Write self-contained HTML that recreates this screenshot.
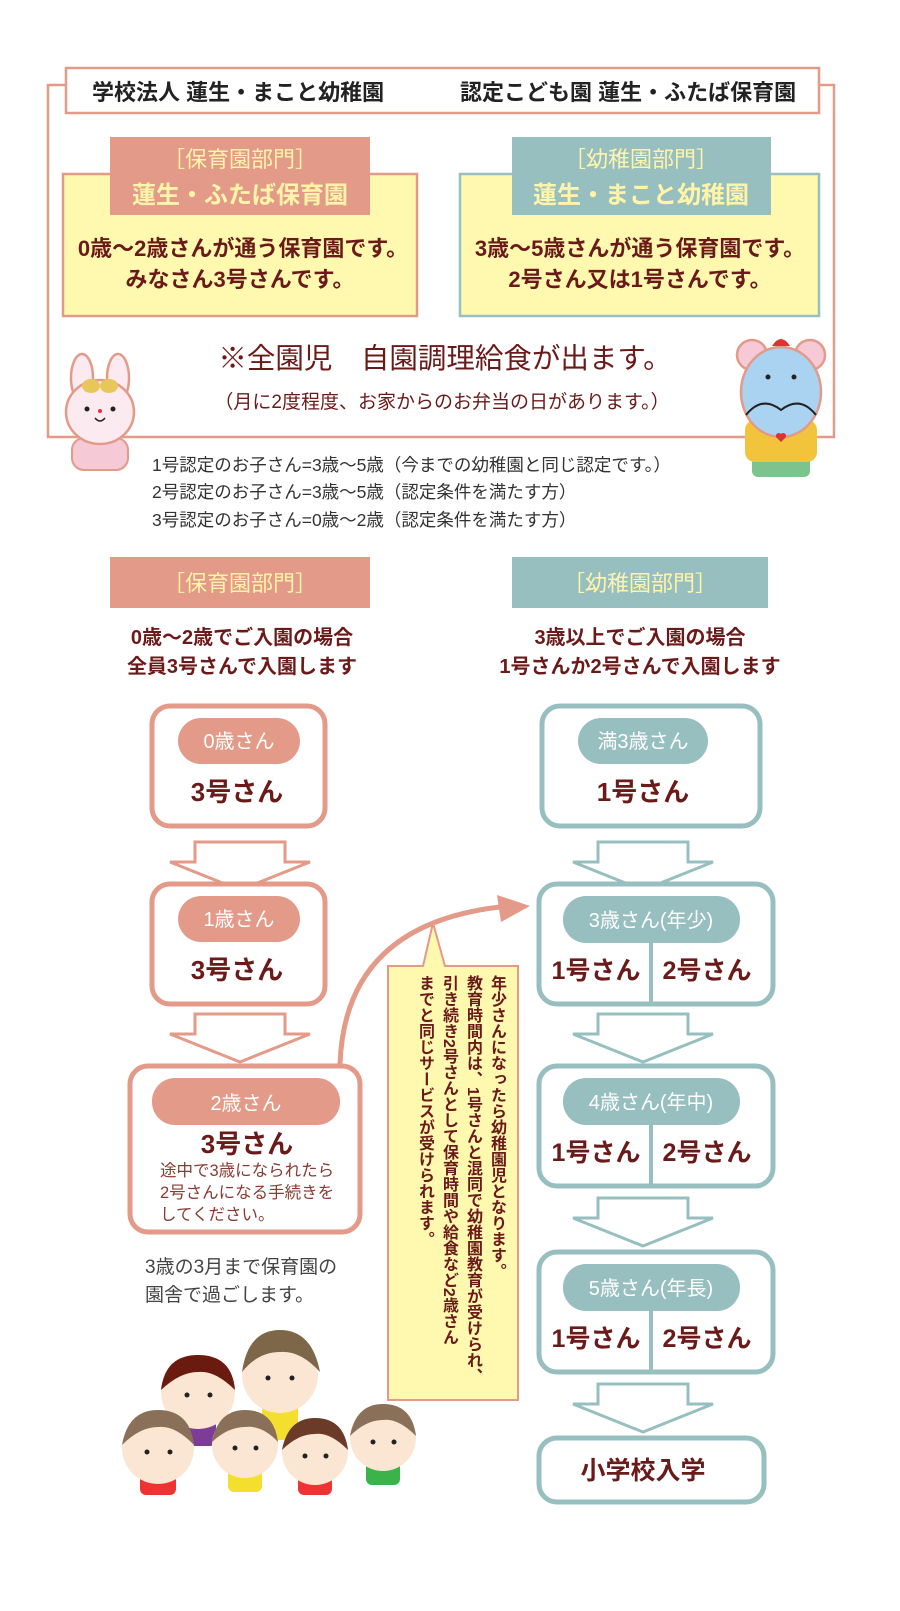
<!DOCTYPE html>
<html><head><meta charset="utf-8"><style>
body{margin:0;background:#fff}
svg{display:block}
text{font-family:"Liberation Sans","Noto Sans CJK JP",sans-serif}
.b{font-weight:bold}
.dr{fill:#6b1a1a}
.yl{fill:#fff4a8}
.wt{fill:#fff}
.vt{position:absolute;writing-mode:vertical-rl;font-family:"Liberation Sans","Noto Sans CJK JP",sans-serif;font-size:16px;line-height:24px;color:#6b1a1a;font-weight:bold}
</style></head><body>
<div style="position:relative;width:900px;height:1611px;overflow:hidden">
<svg width="900" height="1611" viewBox="0 0 900 1611">
<defs>
<g id="arrS"><path d="M25 2 H115 V22 H140 L70 50 L0 22 H25 Z" fill="#fff" stroke="#e39a88" stroke-width="3"/></g>
<g id="arrT"><path d="M25 2 H115 V22 H140 L70 50 L0 22 H25 Z" fill="#fff" stroke="#97bfc0" stroke-width="3"/></g>
</defs>
<path d="M65 85 H48 V437 H834 V85 H820" fill="none" stroke="#e39a88" stroke-width="2.5"/>
<rect x="66" y="68" width="753" height="45" fill="#fff" stroke="#e39a88" stroke-width="2.5"/>
<text x="92" y="100" font-size="22" fill="#222" class="b">学校法人 蓮生・まこと幼稚園</text>
<text x="460" y="100" font-size="22" fill="#222" class="b">認定こども園 蓮生・ふたば保育園</text>
<rect x="63" y="174" width="354" height="142" fill="#fff9b0" stroke="#e39a88" stroke-width="2.5"/>
<rect x="110" y="137" width="260" height="78" fill="#e39a88"/>
<text x="240" y="167" font-size="22" class="yl" text-anchor="middle">［保育園部門］</text>
<text x="240" y="203" font-size="24" class="yl b" text-anchor="middle">蓮生・ふたば保育園</text>
<text x="243" y="256" font-size="22" class="dr b" text-anchor="middle">0歳～2歳さんが通う保育園です。</text>
<text x="240" y="287" font-size="22" class="dr b" text-anchor="middle">みなさん3号さんです。</text>
<rect x="460" y="174" width="359" height="142" fill="#fff9b0" stroke="#97bfc0" stroke-width="2.5"/>
<rect x="512" y="137" width="259" height="78" fill="#97bfc0"/>
<text x="641" y="167" font-size="22" class="yl" text-anchor="middle">［幼稚園部門］</text>
<text x="641" y="203" font-size="24" class="yl b" text-anchor="middle">蓮生・まこと幼稚園</text>
<text x="640" y="256" font-size="22" class="dr b" text-anchor="middle">3歳～5歳さんが通う保育園です。</text>
<text x="640" y="287" font-size="22" class="dr b" text-anchor="middle">2号さん又は1号さんです。</text>
<text x="445" y="368" font-size="28.5" class="dr" text-anchor="middle">※全園児　自園調理給食が出ます。</text>
<text x="442" y="408" font-size="19" class="dr" text-anchor="middle">（月に2度程度、お家からのお弁当の日があります。）</text>
<g>
<ellipse cx="82" cy="378" rx="11" ry="24" fill="#fbeaf0" stroke="#e39a88" stroke-width="2.5"/>
<ellipse cx="118" cy="378" rx="11" ry="24" fill="#fbeaf0" stroke="#e39a88" stroke-width="2.5"/>
<rect x="72" y="438" width="56" height="32" rx="12" fill="#f6c9d7" stroke="#e39a88" stroke-width="2"/>
<ellipse cx="100" cy="412" rx="34" ry="32" fill="#fbeaf0" stroke="#e39a88" stroke-width="2.5"/>
<ellipse cx="91" cy="386" rx="9" ry="7" fill="#e8c75a"/><ellipse cx="109" cy="386" rx="9" ry="7" fill="#e8c75a"/>
<circle cx="87" cy="409" r="2.5" fill="#222"/><circle cx="113" cy="409" r="2.5" fill="#222"/>
<circle cx="100" cy="411" r="2" fill="#d33"/>
<path d="M95 418 Q100 424 105 418" fill="none" stroke="#222" stroke-width="1.5"/>
</g>
<g>
<rect x="752" y="455" width="58" height="22" rx="6" fill="#7cc38c"/>
<rect x="745" y="420" width="72" height="42" rx="10" fill="#f1c43b"/>
<circle cx="752" cy="355" r="15" fill="#f6c9d7" stroke="#e39a88" stroke-width="2.5"/>
<circle cx="810" cy="355" r="15" fill="#f6c9d7" stroke="#e39a88" stroke-width="2.5"/>
<ellipse cx="781" cy="392" rx="40" ry="45" fill="#a9d3f0" stroke="#e39a88" stroke-width="2.5"/>
<path d="M772 346 Q781 332 790 346 Z" fill="#d33"/>
<circle cx="768" cy="377" r="2.5" fill="#222"/><circle cx="794" cy="377" r="2.5" fill="#222"/>
<path d="M746 415 Q762 395 781 410 Q800 395 816 415" fill="none" stroke="#222" stroke-width="2"/>
<path d="M776 437 l5 5 5-5 a3 3 0 0 0-5-3 a3 3 0 0 0-5 3z" fill="#d33"/>
</g>
<text x="152" y="471" font-size="17.5" fill="#333">1号認定のお子さん=3歳～5歳（今までの幼稚園と同じ認定です。）</text>
<text x="152" y="498" font-size="17.5" fill="#333">2号認定のお子さん=3歳～5歳（認定条件を満たす方）</text>
<text x="152" y="526" font-size="17.5" fill="#333">3号認定のお子さん=0歳～2歳（認定条件を満たす方）</text>
<rect x="110" y="557" width="260" height="51" fill="#e39a88"/>
<text x="240" y="591" font-size="22" class="yl" text-anchor="middle">［保育園部門］</text>
<rect x="512" y="557" width="256" height="51" fill="#97bfc0"/>
<text x="640" y="591" font-size="22" class="yl" text-anchor="middle">［幼稚園部門］</text>
<text x="242" y="644" font-size="20" class="dr b" text-anchor="middle">0歳～2歳でご入園の場合</text>
<text x="242" y="673" font-size="20" class="dr b" text-anchor="middle">全員3号さんで入園します</text>
<text x="640" y="644" font-size="20" class="dr b" text-anchor="middle">3歳以上でご入園の場合</text>
<text x="640" y="673" font-size="20" class="dr b" text-anchor="middle">1号さんか2号さんで入園します</text>
<rect x="152" y="706" width="173" height="120" rx="18" fill="#fff" stroke="#e39a88" stroke-width="5"/>
<rect x="178" y="718" width="122" height="46" rx="23" fill="#e39a88"/>
<text x="239" y="748" font-size="20" class="wt" text-anchor="middle">0歳さん</text>
<text x="237" y="801" font-size="26" class="dr b" text-anchor="middle">3号さん</text>
<use href="#arrS" x="170" y="840"/>
<rect x="152" y="884" width="173" height="120" rx="18" fill="#fff" stroke="#e39a88" stroke-width="5"/>
<rect x="178" y="896" width="122" height="46" rx="23" fill="#e39a88"/>
<text x="239" y="926" font-size="20" class="wt" text-anchor="middle">1歳さん</text>
<text x="237" y="979" font-size="26" class="dr b" text-anchor="middle">3号さん</text>
<use href="#arrS" x="170" y="1012"/>
<rect x="130" y="1066" width="230" height="166" rx="18" fill="#fff" stroke="#e39a88" stroke-width="5"/>
<rect x="152" y="1078" width="188" height="47" rx="23" fill="#e39a88"/>
<text x="246" y="1110" font-size="20" class="wt" text-anchor="middle">2歳さん</text>
<text x="247" y="1153" font-size="26" class="dr b" text-anchor="middle">3号さん</text>
<text x="160" y="1176" font-size="16.5" fill="#8a3a30">途中で3歳になられたら</text>
<text x="160" y="1198" font-size="16.5" fill="#8a3a30">2号さんになる手続きを</text>
<text x="160" y="1220" font-size="16.5" fill="#8a3a30">してください。</text>
<text x="145" y="1273" font-size="19" fill="#444">3歳の3月まで保育園の</text>
<text x="145" y="1301" font-size="19" fill="#444">園舎で過ごします。</text>
<path d="M340 1064 Q345 925 500 907" fill="none" stroke="#e39a88" stroke-width="5"/>
<path d="M497 895 L530 906 L501 922 Z" fill="#e39a88"/>
<path d="M388 966 H423 L433 923 L445 966 H518 V1400 H388 Z" fill="#fff9b0" stroke="#e39a88" stroke-width="2"/>
<rect x="542" y="706" width="218" height="120" rx="18" fill="#fff" stroke="#97bfc0" stroke-width="5"/>
<rect x="578" y="718" width="130" height="46" rx="23" fill="#97bfc0"/>
<text x="643" y="748" font-size="20" class="wt" text-anchor="middle">満3歳さん</text>
<text x="643" y="801" font-size="26" class="dr b" text-anchor="middle">1号さん</text>
<use href="#arrT" x="573" y="840"/>
<g id="kb">
<rect x="539" y="884" width="234" height="120" rx="18" fill="#fff" stroke="#97bfc0" stroke-width="5"/>
<rect x="563" y="896" width="177" height="47" rx="23" fill="#97bfc0"/>
<line x1="651" y1="943" x2="651" y2="1002" stroke="#97bfc0" stroke-width="4"/>
</g>
<text x="651" y="927" font-size="20" class="wt" text-anchor="middle">3歳さん(年少)</text>
<text x="596" y="979" font-size="25" class="dr b" text-anchor="middle">1号さん</text>
<text x="707" y="979" font-size="25" class="dr b" text-anchor="middle">2号さん</text>
<use href="#arrT" x="573" y="1012"/>
<use href="#kb" y="182"/>
<text x="651" y="1109" font-size="20" class="wt" text-anchor="middle">4歳さん(年中)</text>
<text x="596" y="1161" font-size="25" class="dr b" text-anchor="middle">1号さん</text>
<text x="707" y="1161" font-size="25" class="dr b" text-anchor="middle">2号さん</text>
<use href="#arrT" x="573" y="1196"/>
<use href="#kb" y="368"/>
<text x="651" y="1295" font-size="20" class="wt" text-anchor="middle">5歳さん(年長)</text>
<text x="596" y="1347" font-size="25" class="dr b" text-anchor="middle">1号さん</text>
<text x="707" y="1347" font-size="25" class="dr b" text-anchor="middle">2号さん</text>
<use href="#arrT" x="573" y="1382"/>
<rect x="539" y="1438" width="225" height="64" rx="18" fill="#fff" stroke="#97bfc0" stroke-width="5"/>
<text x="643" y="1479" font-size="25" class="dr b" text-anchor="middle">小学校入学</text>
<g>
<rect x="262" y="1400" width="36" height="40" rx="6" fill="#f5df2e"/>
<circle cx="280" cy="1375" r="38" fill="#fbe6d4"/><path d="M242 1372 Q248 1330 280 1330 Q312 1330 320 1372 Q300 1350 280 1352 Q258 1352 242 1372Z" fill="#7d6748"/>
<rect x="180" y="1410" width="36" height="36" rx="6" fill="#7d3c98"/>
<circle cx="198" cy="1392" r="37" fill="#fbe6d4"/><path d="M161 1390 Q165 1355 198 1355 Q232 1355 235 1390 Q215 1370 198 1372 Q180 1372 161 1390Z" fill="#6b1a10"/>
<rect x="140" y="1465" width="36" height="30" rx="6" fill="#e33"/>
<circle cx="158" cy="1448" r="36" fill="#fbe6d4"/><path d="M122 1445 Q128 1410 158 1410 Q190 1410 194 1445 Q175 1425 158 1427 Q140 1427 122 1445Z" fill="#8a7058"/>
<rect x="228" y="1462" width="34" height="30" rx="6" fill="#f5df2e"/>
<circle cx="245" cy="1445" r="33" fill="#fbe6d4"/><path d="M212 1442 Q218 1410 245 1410 Q274 1410 278 1442 Q262 1425 245 1427 Q228 1427 212 1442Z" fill="#8a7058"/>
<rect x="298" y="1470" width="34" height="25" rx="6" fill="#e33"/>
<circle cx="315" cy="1452" r="33" fill="#fbe6d4"/><path d="M282 1450 Q288 1418 315 1418 Q344 1418 348 1450 Q330 1432 315 1434 Q298 1434 282 1450Z" fill="#6b3a28"/>
<rect x="366" y="1460" width="34" height="25" rx="6" fill="#3bb34a"/>
<circle cx="383" cy="1438" r="33" fill="#fbe6d4"/><path d="M350 1436 Q356 1404 383 1404 Q412 1404 416 1436 Q398 1418 383 1420 Q366 1420 350 1436Z" fill="#8a7058"/>
<g fill="#222"><circle cx="187" cy="1395" r="2.5"/><circle cx="210" cy="1395" r="2.5"/><circle cx="268" cy="1378" r="2.5"/><circle cx="292" cy="1378" r="2.5"/><circle cx="147" cy="1452" r="2.5"/><circle cx="170" cy="1452" r="2.5"/><circle cx="235" cy="1448" r="2.5"/><circle cx="256" cy="1448" r="2.5"/><circle cx="305" cy="1456" r="2.5"/><circle cx="326" cy="1456" r="2.5"/><circle cx="373" cy="1442" r="2.5"/><circle cx="394" cy="1442" r="2.5"/></g>
</g>
</svg>
<div class="vt" style="left:400px;top:975px;height:430px;width:108px">年少さんになったら幼稚園児となります。<br>教育時間内は、1号さんと混同で幼稚園教育が受けられ、<br>引き続き2号さんとして保育時間や給食など2歳さん<br>までと同じサービスが受けられます。</div>
</div>
</body></html>
